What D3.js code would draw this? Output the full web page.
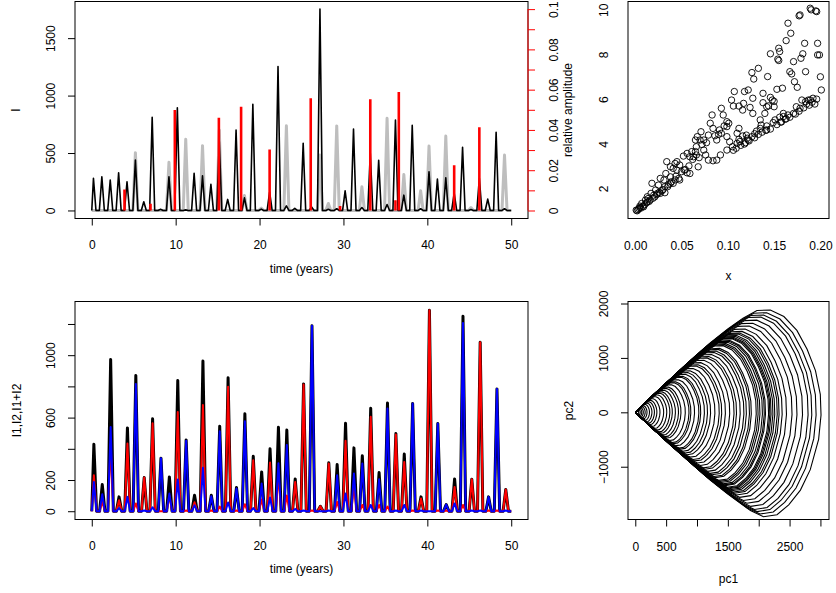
<!DOCTYPE html>
<html><head><meta charset="utf-8">
<script src="https://cdn.jsdelivr.net/npm/d3@7"></script>
<style>
body{margin:0;background:#fff}
svg text{font-family:"Liberation Sans",Arial,Helvetica,sans-serif;font-size:12px;fill:#000}
</style>
</head><body>
<svg id="c" width="836" height="593"></svg>
<script>
// ---------------- DATA ----------------
// Panel 1: time series I (black), second series (grey), relative amplitude (red)
const topTimes = [0.2,1.2,2.2,3.2,4.2,5.2,6.2,7.2,8.2,9.2,10.2,11.2,12.2,13.2,14.2,15.2,16.2,17.2,18.2,19.2,20.2,21.2,22.2,23.2,24.2,25.2,26.2,27.2,28.2,29.2,30.2,31.2,32.2,33.2,34.2,35.2,36.2,37.2,38.2,39.2,40.2,41.2,42.2,43.2,44.2,45.2,46.2,47.2,48.2,49.2];
const topI = [279,293,264,328,250,439,75,811,10,293,893,5,323,302,227,600,96,700,110,925,12,160,1253,40,18,585,30,1754,10,15,171,708,25,497,436,52,788,133,741,15,337,273,285,150,550,8,280,99,681,15];
const topGrey = [0,0,0,0,0,503,0,0,0,419,0,619,0,564,0,700,0,0,130,0,20,0,0,738,0,0,0,483,61,736,0,0,206,0,0,803,0,312,0,171,561,0,648,0,0,25,0,0,0,483];
const ampTimes = [3.9,7.0,9.9,15.15,17.8,21.2,26.1,29.6,33.2,36.2,36.6,43.2,46.2];
const ampValues = [0.0104,0.0034,0.0499,0.046,0.0515,0.0303,0.0557,0.0022,0.0553,0.0051,0.0588,0.0225,0.0413];

// Panel 2: scatter
const scatterX = [0.178,0.177,0.189,0.190,0.195,0.196,0.165,0.168,0.163,0.155,0.156,0.154,0.155,0.146,0.183,0.197,0.199,0.197,0.181,0.179,0.171,0.167,0.169,0.184,0.200,0.172,0.175,0.201,0.159,0.153,0.143,0.133,0.126,0.128,0.138,0.127,0.122,0.118,0.117,0.107,0.104,0.106,0.112,0.124,0.127,0.138,0.146,0.148,0.150,0.142,0.140,0.135,0.151,0.160,0.165,0.171,0.174,0.180,0.184,0.189,0.192,0.194,0.185,0.187,0.178,0.156,0.149,0.142,0.135,0.131,0.126,0.120,0.116,0.112,0.110,0.105,0.102,0.099,0.093,0.088,0.084,0.079,0.083,0.081,0.093,0.095,0.099,0.101,0.112,0.110,0.116,0.099,0.092,0.088,0.084,0.079,0.076,0.074,0.070,0.067,0.071,0.065,0.068,0.066,0.063,0.061,0.056,0.052,0.059,0.056,0.053,0.048,0.045,0.034,0.038,0.041,0.047,0.043,0.038,0.033,0.031,0.027,0.038,0.032,0.025,0.022,0.018,0.017,0.013,0.011,0.007,0.004,0.001,0.002,0.005,0.009,0.013,0.014,0.020,0.024,0.029,0.035,0.041,0.048,0.032,0.027,0.016,0.005,0.059,0.065,0.043,0.045,0.074,0.066,0.099,0.091,0.122,0.118,0.142,0.136,0.160,
  0.106,0.109,0.114,0.119,0.123,0.129,0.133,0.137,0.141,0.146,0.153,0.158,0.162,0.167,0.173,0.177,0.182,0.188,0.191,0.196,0.003,0.006,0.008,0.010,0.012,0.015,0.019,0.021,0.023,0.026,0.030,0.036,0.039,0.044,0.050,0.054,0.058,0.062,0.069,0.072,0.077,0.086,0.090,0.096,0.113,0.121,0.129,0.144,0.150,0.157,0.163];
const scatterY = [9.77,9.73,10.07,10.0,9.95,9.92,9.40,8.95,8.62,8.28,8.13,7.79,7.73,8.03,8.50,8.50,7.98,7.98,8.03,7.83,7.68,7.23,7.13,7.23,7.0,6.78,6.53,6.41,6.49,6.44,7.01,7.38,7.19,6.90,6.26,6.04,6.41,6.34,5.81,6.34,5.96,5.69,5.69,5.63,5.36,5.84,6.08,5.96,5.66,5.66,5.36,5.07,5.07,5.22,5.29,5.36,5.66,5.96,5.89,5.96,6.04,5.78,5.78,5.96,5.59,5.19,4.95,4.80,4.69,4.57,4.32,4.39,4.35,4.20,4.02,3.87,4.09,4.32,4.47,4.17,4.69,4.39,5.29,4.92,5.59,5.29,4.99,4.92,4.69,4.47,5.51,3.72,3.50,3.27,3.24,3.27,3.50,4.17,4.17,4.32,4.54,4.17,2.97,3.50,3.42,3.65,3.57,3.45,2.67,2.70,2.82,3.05,3.20,3.20,2.97,2.90,2.45,2.38,2.52,2.67,2.38,2.45,2.23,2.08,2.15,1.93,2.23,1.78,1.63,1.48,1.33,1.10,1.03,1.0,1.21,1.18,1.40,1.55,1.70,1.78,1.90,2.08,2.23,2.38,1.81,1.78,1.48,1.15,3.42,3.65,3.12,2.82,3.72,3.87,4.77,4.62,4.17,3.99,4.62,4.84,5.36,
  3.71,3.80,3.93,4.05,4.13,4.27,4.42,4.52,4.60,4.66,4.86,4.98,5.10,5.19,5.33,5.46,5.61,5.73,5.86,6.00,1.05,1.12,1.20,1.27,1.35,1.42,1.56,1.62,1.72,1.83,1.95,2.17,2.30,2.55,2.75,2.85,3.01,3.30,3.38,3.97,4.05,4.36,4.42,4.80,4.10,4.25,4.45,5.70,5.90,4.97,5.12];

// Panel 3: I1, I2, I1+I2
const botTimes = [0.25,1.25,2.25,3.25,4.25,5.25,6.25,7.25,8.25,9.25,10.25,11.25,12.25,13.25,14.25,15.25,16.25,17.25,18.25,19.25,20.25,21.25,22.25,23.25,24.25,25.25,26.25,27.25,28.25,29.25,30.25,31.25,32.25,33.25,34.25,35.25,36.25,37.25,38.25,39.25,40.25,41.25,42.25,43.25,44.25,45.3,46.3,47.3,48.3,49.35];
const botSum = [429,171,972,92,534,870,216,592,340,220,838,457,102,962,102,545,855,152,624,352,252,400,538,521,207,816,1188,32,310,299,564,406,355,660,248,694,498,367,690,92,1288,562,43,207,1250,205,1083,92,784,139];
const botI1 = [231,60,430,70,434,50,216,564,0,100,636,5,58,680,5,30,797,5,45,327,75,312,230,100,188,812,5,32,306,60,451,165,40,605,40,30,492,316,5,81,1288,5,5,156,40,205,1083,5,5,139];
const botI2 = [188,109,540,20,92,816,5,25,340,113,203,451,38,278,96,513,56,145,577,20,177,88,308,425,15,5,1188,0,5,231,113,241,306,40,205,658,5,40,690,5,0,562,43,50,1207,5,5,92,784,5];

// Panel 4: phase plot (unit loop template + loop extents in pc1)
const loopU = [0,0.1,0.2,0.3,0.4,0.5,0.58,0.655,0.727,0.8,0.87,0.925,0.97,0.996,1.0,0.987,0.942,0.889,0.826,0.763,0.69,0.62,0.5,0.4,0.3,0.2,0.1,0];
const loopV = [0,0.11,0.215,0.32,0.42,0.51,0.575,0.622,0.625,0.585,0.5,0.385,0.255,0.11,-0.017,-0.165,-0.35,-0.475,-0.565,-0.625,-0.638,-0.6,-0.5,-0.41,-0.31,-0.21,-0.105,0];
const loopSize = [3010,2930,2860,2800,2710,2620,2540,2450,2380,2330,2300,2260,2230,2200,2180,2160,2110,2090,2060,2020,1990,1960,1880,1850,1800,1760,1700,1640,1600,1530,1460,1400,1360,1290,1220,1170,1120,1060,1030,960,900,870,810,740,700,650,600,560,510,460,400,350,310,270,230,190,160,130,105,80,55];

// ---------------- DRAW ----------------
const svg = d3.select('#c');
const P1 = {x0:75,x1:528,y0:1.5,y1:218.5};
const P2 = {x0:628,x1:829,y0:1.5,y1:218.5};
const P3 = {x0:75,x1:528,y0:301.5,y1:519.5};
const P4 = {x0:628,x1:829,y0:301.5,y1:519.5};

const x1 = d3.scaleLinear().domain([-2,52]).range([P1.x0,P1.x1]);
const y1 = d3.scaleLinear().domain([-70,1819]).range([P1.y1,P1.y0]);
const yR = d3.scaleLinear().domain([-0.00398,0.10378]).range([P1.y1,P1.y0]);
const x2 = d3.scaleLinear().domain([-0.00786,0.2093]).range([P2.x0,P2.x1]);
const y2 = d3.scaleLinear().domain([0.655,10.372]).range([P2.y1,P2.y0]);
const x3 = d3.scaleLinear().domain([-2,52]).range([P3.x0,P3.x1]);
const y3 = d3.scaleLinear().domain([-53,1344]).range([P3.y1,P3.y0]);
const x4 = d3.scaleLinear().domain([-118,3139]).range([P4.x0,P4.x1]);
const y4 = d3.scaleLinear().domain([-1970,2037]).range([P4.y1,P4.y0]);

function clip(id,P){
  svg.append('clipPath').attr('id',id).append('rect')
    .attr('x',P.x0).attr('y',P.y0).attr('width',P.x1-P.x0).attr('height',P.y1-P.y0);
}
clip('c1',P1);clip('c2',P2);clip('c3',P3);clip('c4',P4);

function spikes(times, vals, half){
  const pts=[[0,0]];
  times.forEach((t,i)=>{pts.push([Math.max(0,t-half),0],[t,vals[i]],[t+half,0]);});
  pts.push([50,0]);
  return pts;
}

// Panel 1
const g1 = svg.append('g').attr('clip-path','url(#c1)');
const line1 = d3.line().x(d=>x1(d[0])).y(d=>y1(d[1]));
g1.append('path').attr('d',line1(spikes(topTimes,topGrey,0.3))).attr('fill','none').attr('stroke','#bebebe').attr('stroke-width',3).attr('stroke-linejoin','round');
g1.append('path').attr('d',line1(spikes(topTimes,topI,0.3))).attr('fill','none').attr('stroke','#000').attr('stroke-width',1.6).attr('stroke-linejoin','round');
g1.selectAll('line.amp').data(ampTimes).join('line')
  .attr('x1',d=>x1(d)).attr('x2',d=>x1(d))
  .attr('y1',yR(0)).attr('y2',(d,i)=>yR(ampValues[i]))
  .attr('stroke','#ff0000').attr('stroke-width',2.6);

// Panel 2
svg.append('g').attr('clip-path','url(#c2)').selectAll('circle').data(scatterX).join('circle')
  .attr('cx',d=>x2(d)).attr('cy',(d,i)=>y2(scatterY[i])).attr('r',3.2)
  .attr('fill','none').attr('stroke','#000').attr('stroke-width',0.9);

// Panel 3
const g3 = svg.append('g').attr('clip-path','url(#c3)');
const line3 = d3.line().x(d=>x3(d[0])).y(d=>y3(d[1]));
g3.append('path').attr('d',line3(spikes(botTimes,botSum,0.32))).attr('fill','none').attr('stroke','#000').attr('stroke-width',3).attr('stroke-linejoin','round');
g3.append('path').attr('d',line3(spikes(botTimes,botI1,0.32))).attr('fill','none').attr('stroke','#ff0000').attr('stroke-width',2).attr('stroke-linejoin','round');
g3.append('path').attr('d',line3(spikes(botTimes,botI2,0.32))).attr('fill','none').attr('stroke','#0000ff').attr('stroke-width',2).attr('stroke-linejoin','round');

// Panel 4
const g4 = svg.append('g').attr('clip-path','url(#c4)');
const line4 = d3.line().x(d=>x4(d[0])).y(d=>y4(d[1]));
loopSize.forEach(s=>{
  const pts = loopU.map((u,i)=>[u*s, loopV[i]*s]);
  g4.append('path').attr('d',line4(pts)).attr('fill','none').attr('stroke','#000').attr('stroke-width',1.1);
});

// Boxes
[P1,P2,P3,P4].forEach(P=>{
  svg.append('rect').attr('x',P.x0).attr('y',P.y0).attr('width',P.x1-P.x0).attr('height',P.y1-P.y0)
    .attr('fill','none').attr('stroke','#000').attr('stroke-width',1);
});

// Axes helpers
function styleAxis(g,color){
  g.select('.domain').remove();
  g.selectAll('line').attr('stroke',color).attr('stroke-width',1);
  g.selectAll('text').attr('fill','#000').style('font-size','12px').attr('font-family',null);
}
function bottomAxis(scale,P,ticks,labels,labelBase,tick){
  const g = svg.append('g').attr('transform',`translate(0,${P.y1})`)
    .call(d3.axisBottom(scale).tickValues(ticks).tickSize(tick).tickSizeOuter(0)
      .tickFormat(d=>{const i=labels.v.indexOf(d);return i<0?'':labels.t[i];}));
  styleAxis(g,'#000');
  g.selectAll('text').attr('y',labelBase-P.y1).attr('dy',0);
}
function leftAxis(scale,P,ticks,labels,off,tick){
  const g = svg.append('g').attr('transform',`translate(${P.x0},0)`)
    .call(d3.axisLeft(scale).tickValues(ticks).tickSize(tick).tickSizeOuter(0)
      .tickFormat(d=>{const i=labels.v.indexOf(d);return i<0?'':labels.t[i];}));
  styleAxis(g,'#000');
  g.selectAll('text').attr('x',0).attr('dy',0).attr('text-anchor','middle')
    .attr('transform',`translate(${-off},0) rotate(-90)`);
}
function rightAxis(scale,P,ticks,labels,off,color){
  const g = svg.append('g').attr('transform',`translate(${P.x1},0)`)
    .call(d3.axisRight(scale).tickValues(ticks).tickSize(7).tickSizeOuter(0)
      .tickFormat(d=>{const i=labels.v.findIndex(v=>Math.abs(v-d)<1e-9);return i<0?'':labels.t[i];}));
  styleAxis(g,color);
  g.selectAll('text').attr('x',0).attr('dy',0).attr('text-anchor','middle')
    .attr('transform',`translate(${off},0) rotate(-90)`);
  g.append('line').attr('y1',scale(ticks[0])).attr('y2',scale(ticks[ticks.length-1])).attr('stroke',color);
}
function title(x,y,txt,rot){
  const t = svg.append('text').attr('text-anchor','middle').text(txt);
  if(rot) t.attr('transform',`translate(${x},${y}) rotate(-90)`); else t.attr('x',x).attr('y',y);
}

// tick definitions
const timeTicks = [0,10,20,30,40,50];
const timeLab = {v:timeTicks,t:['0','10','20','30','40','50']};
const iTicks = [0,500,1000,1500];
const ampTicks = [0,0.01,0.02,0.03,0.04,0.05,0.06,0.07,0.08,0.09,0.1];
const ampLab = {v:[0,0.02,0.04,0.06,0.08,0.1],t:['0','0.02','0.04','0.06','0.08','0.1']};
const xTicks = [0,0.05,0.1,0.15,0.2];
const xLab = {v:xTicks,t:['0.00','0.05','0.10','0.15','0.20']};
const yTicks2 = [2,4,6,8,10];
const i12Ticks = [0,200,400,600,800,1000,1200];
const i12Lab = {v:[0,200,600,1000],t:['0','200','600','1000']};
const pc1Ticks = [0,500,1000,1500,2000,2500,3000];
const pc1Lab = {v:[0,500,1500,2500],t:['0','500','1500','2500']};
const pc2Ticks = [-1000,0,1000,2000];
const pc2Lab = {v:pc2Ticks,t:['\u22121000','0','1000','2000']};

// Panel 1 axes
bottomAxis(x1,P1,timeTicks,timeLab,249,7);
leftAxis(y1,P1,iTicks,{v:iTicks,t:['0','500','1000','1500']},20.5,7);
rightAxis(yR,P1,ampTicks,ampLab,30,'#ff0000');
title(301.5,272.5,'time (years)');
title(20,110,'I',true);
title(572,110,'relative amplitude',true);

// Panel 2 axes (no tick marks in the reference)
bottomAxis(x2,P2,xTicks,xLab,250,0);
leftAxis(y2,P2,yTicks2,{v:yTicks2,t:['2','4','6','8','10']},20.5,0);
title(728.5,280,'x');

// Panel 3 axes
bottomAxis(x3,P3,timeTicks,timeLab,550,7);
leftAxis(y3,P3,i12Ticks,i12Lab,20.5,7);
title(301.5,572.5,'time (years)');
title(21,410.5,'I1,I2,I1+I2',true);

// Panel 4 axes
bottomAxis(x4,P4,pc1Ticks,pc1Lab,551,7);
leftAxis(y4,P4,pc2Ticks,pc2Lab,20.5,7);
title(728.5,583,'pc1');
title(573,410.5,'pc2',true);
</script>
</body></html>
